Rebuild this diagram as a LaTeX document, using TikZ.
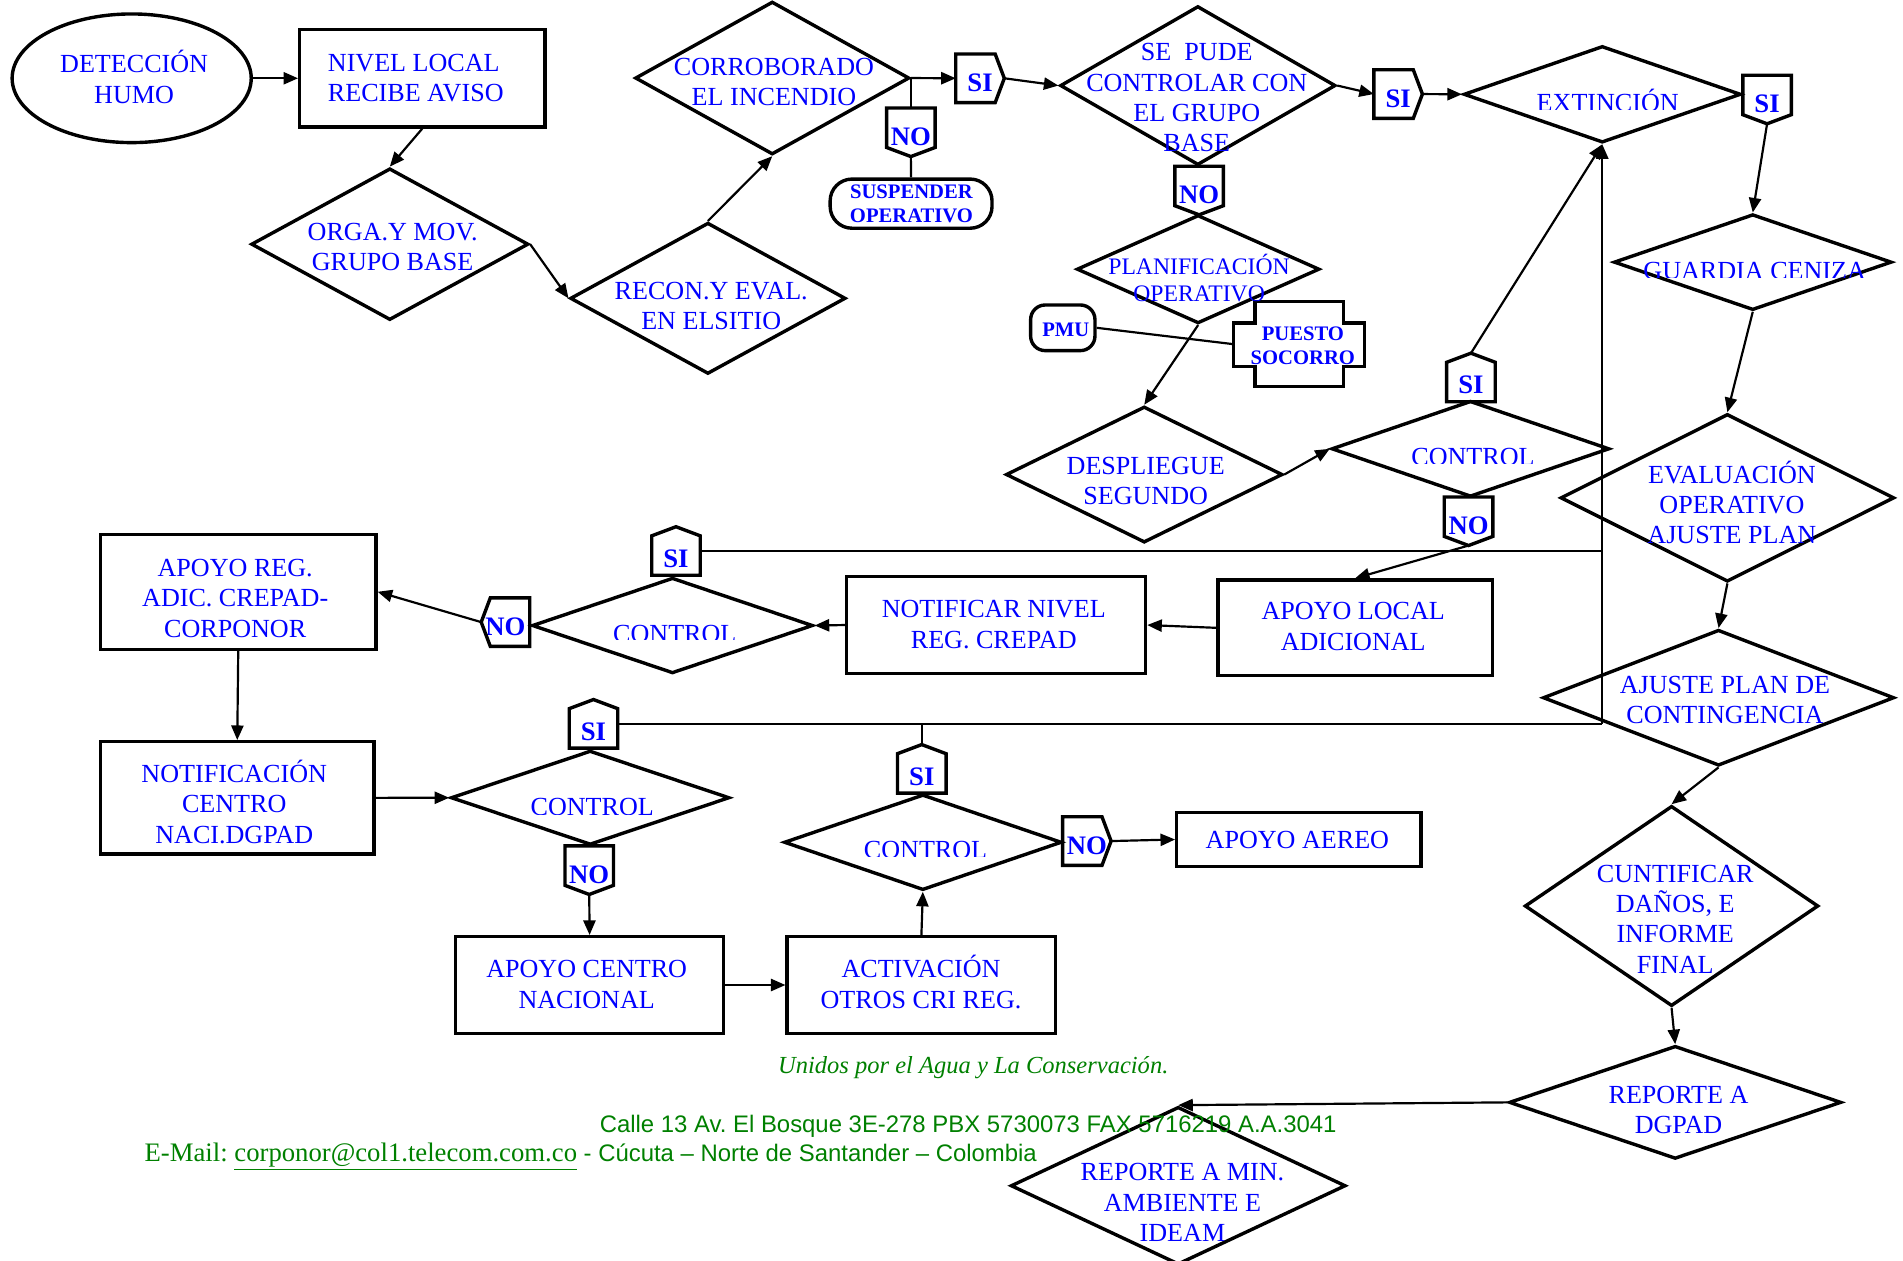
\documentclass[tikz,border=0pt]{standalone}
\usepackage{fontspec}
\setmainfont{Liberation Serif}
\newfontfamily\sansfam{Liberation Sans}
\usetikzlibrary{shapes.geometric,arrows.meta}
\definecolor{tblue}{RGB}{0,0,255}
\definecolor{fgreen}{RGB}{0,128,0}
\newcommand\bodyfnt{\fontsize{21.5}{25}\selectfont}
\newcommand\planfnt{\fontsize{19.5}{22}\selectfont}
\newcommand\lblfnt{\bfseries\fontsize{22}{24}\selectfont}
\newcommand\smbfnt{\bfseries\fontsize{17}{20.3}\selectfont}
\frenchspacing
\begin{document}
\begin{tikzpicture}[x=1pt,y=-1pt,
 shp/.style={draw=black,line width=2.8pt},
 con/.style={draw=black,line width=1.8pt},
 arr/.style={con,-{Triangle[length=12pt,width=10pt]}},
 dia/.style n args={2}{shp,diamond,inner sep=0pt,minimum width=#1,minimum height=#2},
 box/.style n args={2}{shp,rectangle,inner sep=0pt,minimum width=#1,minimum height=#2},
 txt/.style={text=tblue,font=\bodyfnt,align=center,anchor=base,inner sep=0pt},
 pent/.style={rectangle,inner sep=0pt,outer sep=0pt,minimum width=40pt,minimum height=40pt,text=tblue,font=\lblfnt,text height=22pt,text depth=0pt},
 pentN/.style={pent,text height=27pt},
 foot/.style={anchor=base west,inner sep=0pt,text=fgreen}
]
\useasboundingbox (0,0) rectangle (1568,1038.2);

% ---------- shapes ----------
\node[shp,ellipse,inner sep=0pt,minimum width=197pt,minimum height=106pt] (det) at (108.5,64.5) {};
\node[box={202pt}{80pt}] (niv) at (348,64.5) {};
\node[dia={228.5pt}{125pt}] (orga) at (321.2,201.2) {};
\node[dia={227pt}{124.6pt}] (recon) at (583.3,245.8) {};
\node[dia={226pt}{126pt}] (corr) at (636.3,64.3) {};
\node[dia={227pt}{131pt}] (sep) at (987,70.5) {};
\node[dia={228.5pt}{79.6pt}] (ext) at (1320.2,77.7) {};
\node[dia={229pt}{79pt}] (guard) at (1444.2,216) {};
\node[dia={275pt}{138.2pt}] (eval) at (1423.3,410.2) {};
\node[dia={289.4pt}{112pt}] (ajus) at (1416,574.9) {};
\node[dia={242pt}{165pt}] (cunt) at (1377.3,746.5) {};
\node[dia={273.8pt}{93.1pt}] (repd) at (1380.3,908.3) {};
\node[dia={276pt}{130pt}] (repm) at (970.8,977) {};
\node[dia={200pt}{89.3pt}] (planif) at (987.2,221.8) {};
\node[dia={228pt}{112.1pt}] (desp) at (942.8,391) {};
\node[dia={229pt}{79.1pt}] (c1) at (1211.6,369.8) {};
\node[dia={231.5pt}{78.8pt}] (c2) at (554.1,515.4) {};
\node[dia={229.6pt}{77.7pt}] (c3) at (486.3,657.3) {};
\node[dia={228.8pt}{78.8pt}] (c4) at (760.4,694) {};
\node[box={226pt}{78.8pt}] (apl) at (1116.5,517.3) {};
\node[box={246.4pt}{79.7pt}] (notr) at (820.7,515) {};
\node[box={226.9pt}{94.8pt}] (apr) at (196.3,487.6) {};
\node[box={225.4pt}{92.5pt}] (notc) at (195.5,657.4) {};
\node[box={220.7pt}{79.6pt}] (apc) at (485.8,811.6) {};
\node[box={221.2pt}{79.6pt}] (act) at (759.2,811.6) {};
\node[box={201.2pt}{44.7pt}] (aer) at (1070.2,691.7) {};
\node[box={133.4pt}{40.5pt},rounded corners=18pt] (susp) at (750.7,167.8) {};
\node[box={53pt}{37.6pt},rounded corners=12pt] (pmu) at (875.7,270.1) {};
\node[rectangle,inner sep=0pt,outer sep=0pt,minimum width=107.8pt,minimum height=70.1pt] (ps) at (1070.4,283.6) {};
\draw[shp] (1034,248.5) -- (1107,248.5) -- (1107,266) -- (1124.3,266) -- (1124.3,302) -- (1107,302) -- (1107,318.6) -- (1034,318.6) -- (1034,302) -- (1016.5,302) -- (1016.5,266) -- (1034,266) -- cycle;

% ---------- SI / NO labels ----------
\node[pent] (si1) at (807.5,64.5) {SI};
\node[pent] (no1) at (750.5,109) {NO};
\node[pent] (si2) at (1152,77.5) {SI};
\node[pent] (si3) at (1456,82) {SI};
\node[pent] (no2) at (988,157) {NO};
\node[pentN] (si4) at (1212,311) {SI};
\node[pent] (no3) at (1210,429.5) {NO};
\node[pentN] (si5) at (557,454) {SI};
\node[pent] (no4) at (416.5,512.6) {NO};
\node[pentN] (si6) at (489,596.4) {SI};
\node[pent] (no5) at (485.5,717) {NO};
\node[pentN] (si7) at (759.5,633.5) {SI};
\node[pent] (no6) at (895.5,693) {NO};
\foreach \n in {si1,si2,no6}{\draw[shp] (\n.north west) -- ([xshift=-7.5pt]\n.north east) -- (\n.east) -- ([xshift=-7.5pt]\n.south east) -- (\n.south west) -- cycle;}
\foreach \n in {no1,si3,no2,no3,no5}{\draw[shp] (\n.north west) -- (\n.north east) -- ([yshift=7.5pt]\n.south east) -- (\n.south) -- ([yshift=7.5pt]\n.south west) -- cycle;}
\foreach \n in {si4,si5,si6,si7}{\draw[shp] (\n.south west) -- ([yshift=-7.5pt]\n.north west) -- (\n.north) -- ([yshift=-7.5pt]\n.north east) -- (\n.south east) -- cycle;}
\foreach \n in {no4}{\draw[shp] (\n.north east) -- ([xshift=7.5pt]\n.north west) -- (\n.west) -- ([xshift=7.5pt]\n.south west) -- (\n.south east) -- cycle;}

% ---------- connectors ----------
\coordinate (j1) at (1320.2,596.4);
\coordinate (j2) at (1320.2,454);
\coordinate (j3) at (759.5,596.4);
\draw[arr] (det) -- (niv);
\draw[arr] (niv.south) -- (orga.north);
\draw[arr] (orga.east) -- (recon.west);
\draw[arr] (recon.north) -- (corr.south);
\draw[arr] (corr.east) -- (si1.west);
\draw[con] (corr.east) -- (corr.east |- no1.north);
\draw[con] (no1.south) -- (susp.north);
\draw[arr] (si1.east) -- (sep.west);
\draw[arr] (sep.east) -- (si2.west);
\draw[arr] (si2.east) -- (ext.west);
\draw[arr] (si3.south) -- (guard.north);
\draw[arr] (guard.south) -- (eval.north);
\draw[arr] (eval.south) -- (ajus.north);
\draw[arr] (ajus.south) -- (cunt.north);
\draw[arr] (cunt.south) -- (repd.north);
\draw[arr] (repd.west) -- (repm.north);
\draw[con] (pmu.east) -- (ps.west);
\draw[arr] (planif.south) -- (desp.north);
\draw[arr] (desp.east) -- (c1.west);
\draw[arr] (si4.north) -- (ext.south);
\draw[arr] (no3.south) -- (apl.north);
\draw[arr] (apl.west) -- (notr.east);
\draw[arr] (notr.west) -- (c2.east);
\draw[arr] (no4.west) -- (apr.east);
\draw[arr] (apr.south) -- (notc.north);
\draw[arr] (notc.east) -- (c3.west);
\draw[arr] (no5.south) -- (apc.north);
\draw[arr] (apc.east) -- (act.west);
\draw[arr] (act.north) -- (c4.south);
\draw[arr] (no6.east) -- (aer.west);
\draw[con] (si5.east) -- (j2);
\draw[con] (si6.east) -- (j1);
\draw[con] (si7.north) -- (j3);
\draw[arr] (j1) -- (ext.south);

% ---------- texts (anchor = baseline of last line) ----------
\node[txt] (t-det) at (110.5,85) {DETECCIÓN\\HUMO};
\node[txt,align=left,anchor=base west] (t-niv) at (270,83.8) {NIVEL LOCAL\\RECIBE AVISO};
\node[txt] (t-orga) at (323.5,223) {ORGA.Y MOV.\\GRUPO BASE};
\node[txt] (t-recon) at (586,271.9) {RECON.Y EVAL.\\EN ELSITIO};
\node[txt] (t-corr) at (637.7,87.3) {CORROBORADO\\EL INCENDIO};
\node[txt] (t-sep) at (986.1,125) {SE\ \ PUDE\\CONTROLAR CON\\EL GRUPO\\BASE};
\begin{scope}\clip (1200,50) rectangle (1440,90);
\node[txt] (t-ext) at (1324.7,91.9) {EXTINCIÓN};\end{scope}
\begin{scope}\clip (1320,190) rectangle (1570,228.8);
\node[txt] (t-guard) at (1445.8,230.3) {GUARDIA CENIZA};\end{scope}
\node[txt,font=\planfnt] (t-planif) at (988,248.5) {PLANIFICACIÓN\\OPERATIVO};
\node[txt] (t-desp) at (944,416) {DESPLIEGUE\\SEGUNDO};
\begin{scope}\clip (1100,350) rectangle (1330,382.3);
\node[txt] (t-c1) at (1213.7,383.6) {CONTROL};\end{scope}
\node[txt] (t-eval) at (1427,448.2) {EVALUACIÓN\\OPERATIVO\\AJUSTE PLAN};
\node[txt] (t-ajus) at (1421.3,596) {AJUSTE PLAN DE\\CONTINGENCIA};
\node[txt] (t-apl) at (1115,535.6) {APOYO LOCAL\\ADICIONAL};
\node[txt] (t-notr) at (818.8,534.1) {NOTIFICAR NIVEL\\REG. CREPAD};
\begin{scope}\clip (440,495) rectangle (670,527.3);
\node[txt] (t-c2) at (556,529.2) {CONTROL};\end{scope}
\node[txt] (t-apr) at (193.8,525.1) {APOYO REG.\\ADIC. CREPAD-\\CORPONOR};
\node[txt] (t-notc) at (193,694.8) {NOTIFICACIÓN\\CENTRO\\NACI.DGPAD};
\begin{scope}\clip (372,640) rectangle (602,670.9);
\node[txt] (t-c3) at (488,671.9) {CONTROL};\end{scope}
\begin{scope}\clip (646,675) rectangle (876,705.8);
\node[txt] (t-c4) at (762.6,707.7) {CONTROL};\end{scope}
\node[txt] (t-aer) at (1069,699) {APOYO AEREO};
\node[txt] (t-apc) at (483.4,830.8) {APOYO CENTRO\\NACIONAL};
\node[txt] (t-act) at (758.9,830.8) {ACTIVACIÓN\\OTROS CRI REG.};
\node[txt] (t-cunt) at (1380.3,801.9) {CUNTIFICAR\\DAÑOS, E\\INFORME\\FINAL};
\node[txt] (t-repd) at (1383,934.3) {REPORTE A\\DGPAD};
\node[txt] (t-repm) at (974.3,1023) {REPORTE A MIN.\\AMBIENTE E\\IDEAM};
\node[txt,font=\smbfnt] (t-susp) at (751,183.5) {SUSPENDER\\OPERATIVO};
\node[txt,font=\smbfnt] (t-pmu) at (878.2,277.4) {PMU};
\node[txt,font=\smbfnt] (t-ps) at (1073.5,300.7) {PUESTO\\SOCORRO};

% ---------- footer ----------
\node[foot,font=\itshape\fontsize{20.2}{24}\selectfont] (unidos) at (641,884.3) {Unidos por el Agua y La Conservación.};
\node[foot,font=\sansfam\fontsize{19.7}{24}\selectfont] (calle) at (494,933.3) {Calle 13 Av. El Bosque 3E-278 PBX 5730073 FAX 5716219 A.A.3041};
\node[foot] (email) at (119,957) {{\fontsize{22}{26}\selectfont E-Mail: \underline{corponor@col1.telecom.com.co}}{\sansfam\fontsize{19.7}{24}\selectfont\ - Cúcuta – Norte de Santander – Colombia}};
\end{tikzpicture}
\end{document}
